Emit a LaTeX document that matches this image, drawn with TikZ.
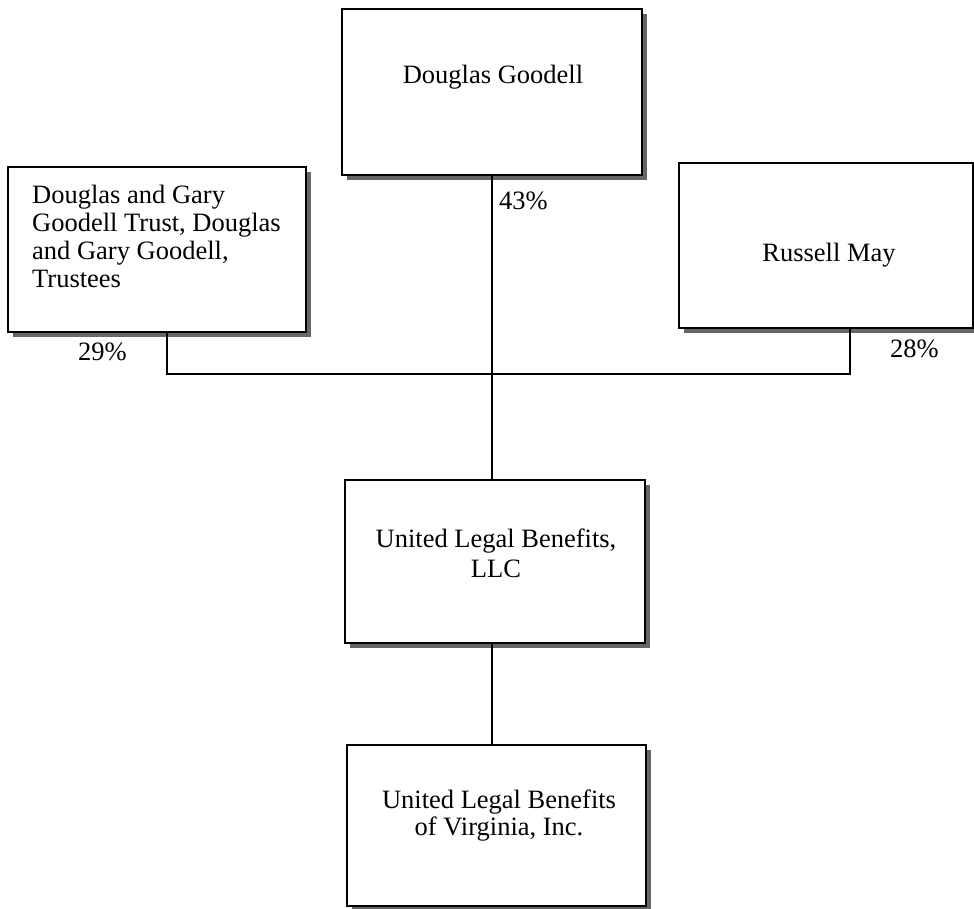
\documentclass[tikz,border=0pt]{standalone}
\usepackage{fontspec}
\setmainfont{Liberation Serif}
\usetikzlibrary{shadows}
\begin{document}
\begin{tikzpicture}[x=1pt,y=-1pt,
  box/.style={draw=black, line width=2pt, fill=white, rectangle, inner sep=0pt,
    drop shadow={shadow xshift=5pt, shadow yshift=-5pt, fill=black!60, opacity=1}},
  lbl/.style={inner sep=0pt, font=\fontsize{26.5}{28.5}\selectfont},
  conn/.style={draw=black, line width=2pt}]
\useasboundingbox (0,0) rectangle (974,908);
% boxes
\node[box, minimum width=300pt, minimum height=166pt] (DG) at (492,92) {};
\node[box, minimum width=298pt, minimum height=165pt] (TR) at (157,249.5) {};
\node[box, minimum width=294pt, minimum height=165pt] (RM) at (826,245.5) {};
\node[box, minimum width=300pt, minimum height=163pt] (LLC) at (495,561.5) {};
\node[box, minimum width=299pt, minimum height=161pt] (VA) at (496.5,825.5) {};
% texts
\node[lbl, anchor=base] (tDG) at (493,83) {Douglas Goodell};
\node[lbl, anchor=base west] (tTR1) at (32,203) {Douglas and Gary};
\node[lbl, anchor=base west] (tTR2) at (32,231) {Goodell Trust, Douglas};
\node[lbl, anchor=base west] (tTR3) at (32,259) {and Gary Goodell,};
\node[lbl, anchor=base west] (tTR4) at (32,287) {Trustees};
\node[lbl, anchor=base] (tRM) at (829,261) {Russell May};
\node[lbl, anchor=base] (tLLC1) at (496,547) {United Legal Benefits,};
\node[lbl, anchor=base] (tLLC2) at (496,577) {LLC};
\node[lbl, anchor=base] (tVA1) at (499,808) {United Legal Benefits};
\node[lbl, anchor=base] (tVA2) at (499,835) {of Virginia, Inc.};
% percentages
\node[lbl, anchor=base west] (p43) at (499,209) {43\%};
\node[lbl, anchor=base west] (p29) at (78,360) {29\%};
\node[lbl, anchor=base west] (p28) at (890,357) {28\%};
% connectors
\coordinate (trB) at ([xshift=160pt]TR.south west);
\coordinate (rmB) at ([xshift=172pt]RM.south west);
\coordinate (dgB) at (DG.south);
\draw[conn] (trB) -- ++(0,41) -| (rmB);
\draw[conn] (dgB) -- (dgB |- LLC.north);
\draw[conn] (dgB |- LLC.south) -- (dgB |- VA.north);
\end{tikzpicture}
\end{document}
